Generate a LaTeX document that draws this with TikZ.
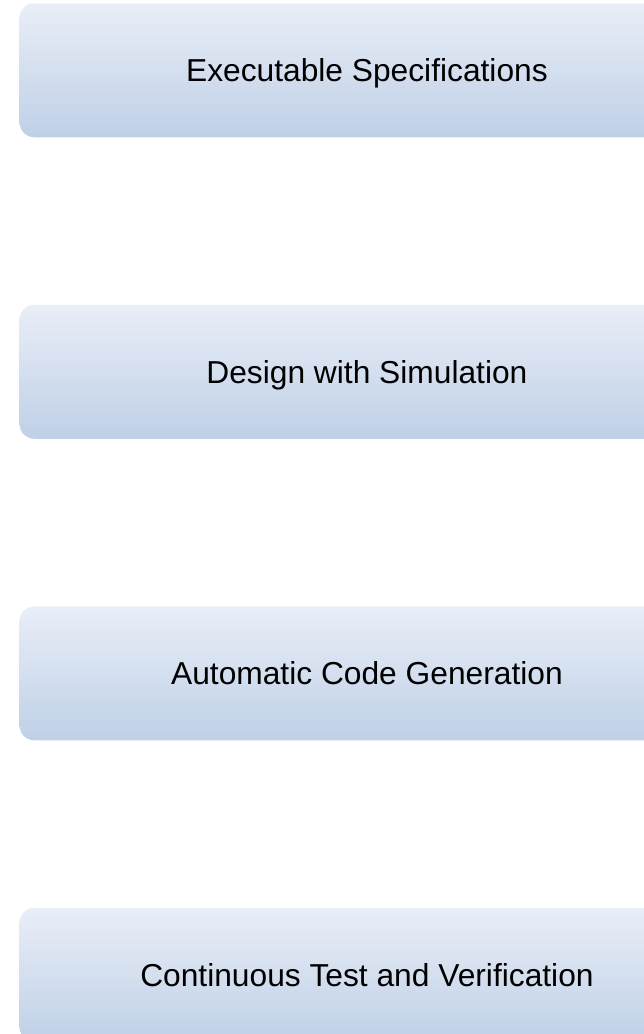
\documentclass[tikz,border=0pt]{standalone}
\usepackage{fontspec}
\setmainfont{Liberation Sans}
\usepackage{tikz}
\usetikzlibrary{positioning}
\definecolor{boxtop}{HTML}{E9EEF7}
\definecolor{boxbottom}{HTML}{BFD0E7}

\begin{document}
\begin{tikzpicture}[stepbox/.style={rectangle, rounded corners=11pt, top color=boxtop, bottom color=boxbottom, draw=none, minimum width=521pt, minimum height=100.5pt, text height=17pt, text depth=0pt, font=\fontsize{23.8}{28}\selectfont},]
    \useasboundingbox (0,0) rectangle (482.25pt,-775.5pt);
    % nodes
    \node[stepbox, anchor=north west] (spec)   at (14.5pt,-2.25pt)       {Executable Specifications};
    \node[stepbox]                    (design) [below=125.25pt of spec]  {Design with Simulation};
    \node[stepbox]                    (code)   [below=125.25pt of design] {Automatic Code Generation};
    \node[stepbox]                    (test)   [below=125.25pt of code]  {Continuous Test and Verification};
\end{tikzpicture}
\end{document}
